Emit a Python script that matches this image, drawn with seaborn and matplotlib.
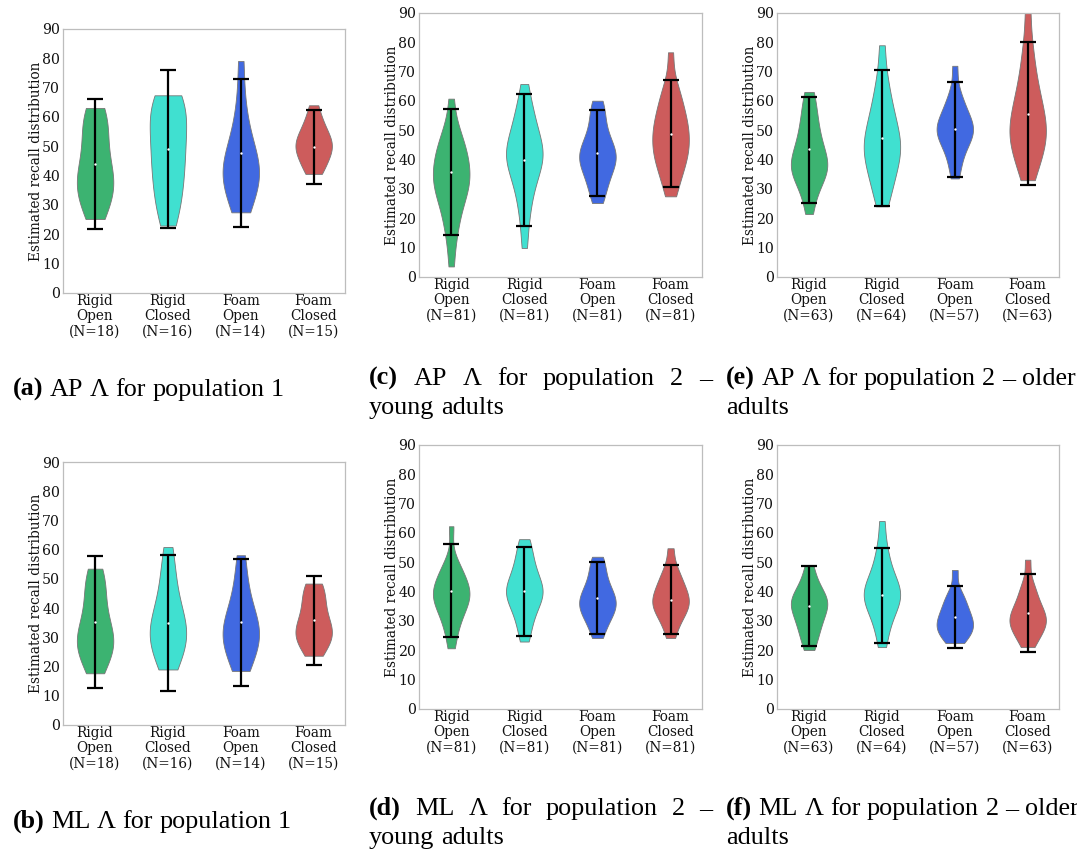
import numpy as np
import pandas as pd
import seaborn as sns
import matplotlib.pyplot as plt

# Conditions and their colours
groups = ["Rigid\nOpen", "Rigid\nClosed", "Foam\nOpen", "Foam\nClosed"]
palette = ["#3CB371", "#40E0D0", "#4169E1", "#CD5C5C"]

# Participants per condition
n_pop1 = [18, 16, 14, 15]
n_young = [81, 81, 81, 81]
n_older = [63, 64, 57, 63]

# Estimated recall values per condition (Rigid Open, Rigid Closed, Foam Open, Foam Closed)
ap_pop1 = [
    [25.2, 27.5, 30, 32.5, 34.5, 36, 37.5, 39, 40.5, 42.5, 45, 48, 51, 54, 57, 59.5, 61.5, 63.1],
    [23.0, 26.5, 30, 33, 36, 39, 41.5, 44, 46.5, 49, 51.5, 54, 56.5, 59, 61.5, 63.5, 65.5, 66.5, 67.4],
    [27.5, 31, 34, 37, 39, 40.5, 42, 43.5, 45.5, 48, 52, 57, 65, 79.1],
    [40.6, 42, 44, 46, 47.5, 48.5, 49.5, 50.5, 51.5, 52.5, 54, 55.5, 57.5, 60, 64.0],
]
ml_pop1 = [
    [17.7, 20, 22.5, 24.5, 26, 27.5, 28.5, 29.5, 31, 32.5, 34.5, 37, 40, 43, 46, 49, 51.5, 53.5],
    [19.0, 21.5, 24, 26.5, 28.5, 30, 31.5, 33, 34.5, 36.5, 39, 42, 45.5, 50, 55, 60.9],
    [18.5, 21.5, 24.5, 27, 29, 30.5, 32, 33.5, 35.5, 38, 41, 45, 51, 58.1],
    [23.7, 26, 28, 29.5, 30.5, 31.5, 32.5, 34, 35.5, 37.5, 40, 42.5, 45, 47, 48.4],
]
ap_young = [
    [3.6, 12, 16.5, 20, 23, 25.5, 27.5, 29, 30.5, 32, 33, 34, 35.5, 37, 38.5, 40, 41.5, 43, 44.5, 46.5, 49, 52, 60.8],
    [9.9, 18, 23, 27, 30, 32.5, 34.5, 36.5, 38, 39.5, 40.5, 41.5, 42.5, 43.5, 45, 46.5, 48, 50, 52, 54.5, 57, 60, 65.8],
    [25.2, 28, 30.5, 32.5, 34.5, 36, 37.5, 38.5, 39.5, 40.5, 41.5, 42.5, 43.5, 44.5, 46, 47.5, 49.5, 52, 55, 57.5, 60.1],
    [27.5, 31.5, 34.5, 37, 39, 40.5, 42, 43.5, 45, 46.5, 48, 49.5, 51, 52.5, 54, 56, 58, 60.5, 63, 66, 76.6],
]
ml_young = [
    [20.7, 26, 29, 31.5, 33.5, 35, 36.5, 37.5, 38.5, 39.5, 40.5, 41.5, 43, 44.5, 46, 48, 50.5, 62.3],
    [23.0, 27, 30, 32.5, 34.5, 36, 37.5, 38.5, 39.5, 40.5, 41.5, 42.5, 44, 45.5, 47.5, 49.5, 52, 55, 57.9],
    [24.2, 27, 29.5, 31, 32.5, 33.5, 34.5, 35.5, 36.5, 37.5, 38.5, 39.5, 41, 42.5, 44.5, 47, 49.5, 51.9],
    [24.2, 28, 30.5, 32, 33.5, 34.5, 35.5, 36.5, 37.5, 38.5, 39.5, 41, 42.5, 44, 46, 48.5, 54.8],
]
ap_older = [
    [21.5, 27, 30, 32.5, 34, 35.5, 36.5, 37.5, 38.5, 39.5, 41, 42.5, 44, 46, 48, 50.5, 53, 56, 59.5, 63.1],
    [24.1, 28, 31.5, 34, 36.5, 38.5, 40.5, 42, 43.5, 45, 46.5, 48, 50, 52, 54.5, 57, 60, 64, 69, 79.0],
    [33.6, 38, 41.5, 44, 46, 47.5, 48.5, 49.5, 50.5, 51.5, 52.5, 54, 55.5, 57.5, 60, 63, 72.0],
    [33.0, 37, 40, 42.5, 44.5, 46.5, 48, 49.5, 51, 53, 55, 57, 59.5, 62, 65, 69, 74, 80, 92],
]
ml_older = [
    [20.1, 23.5, 26, 28, 30, 31.5, 33, 34.5, 35.5, 36.5, 37.5, 38.5, 40, 42, 44.5, 48.8],
    [21.1, 26, 29.5, 32, 34, 35.5, 37, 38, 39, 40, 41, 42.5, 44, 46, 48.5, 52, 56, 64.1],
    [22.5, 24, 25.5, 26.5, 27.5, 28.5, 29.5, 30.5, 31.5, 33, 34.5, 36, 38, 40, 47.4],
    [21.1, 23.5, 25.5, 27, 28, 29, 30, 31, 32, 33, 34.5, 36, 38, 40.5, 43, 50.9],
]

# Interval ends and medians per condition
ap_pop1_lo, ap_pop1_hi, ap_pop1_med = [21.8, 22.2, 22.5, 37.2], [66.0, 76.0, 73.1, 62.5], [44.0, 49.0, 47.7, 49.9]
ml_pop1_lo, ml_pop1_hi, ml_pop1_med = [12.5, 11.5, 13.4, 20.6], [57.9, 58.1, 56.8, 51.0], [35.2, 34.9, 35.2, 35.9]
ap_young_lo, ap_young_hi, ap_young_med = [14.4, 17.5, 27.5, 30.8], [57.4, 62.3, 57.0, 67.0], [35.9, 39.9, 42.3, 48.9]
ml_young_lo, ml_young_hi, ml_young_med = [24.4, 24.9, 25.7, 25.4], [56.2, 55.3, 50.1, 49.1], [40.2, 40.1, 37.8, 37.2]
ap_older_lo, ap_older_hi, ap_older_med = [25.2, 24.1, 34.2, 31.3], [61.5, 70.5, 66.6, 80.1], [43.5, 47.3, 50.3, 55.7]
ml_older_lo, ml_older_hi, ml_older_med = [21.6, 22.4, 20.9, 19.6], [48.8, 54.9, 42.1, 46.0], [35.1, 38.7, 31.3, 32.8]

W, H = 1077, 849
sns.set_theme(style="white")
plt.rcParams["font.family"] = ["DejaVu Serif"]
plt.rcParams["text.color"] = "#111111"
plt.rcParams["axes.labelcolor"] = "#111111"
plt.rcParams["xtick.color"] = "#111111"
plt.rcParams["ytick.color"] = "#111111"

fig = plt.figure(figsize=(W / 100, H / 100), dpi=100)


def rect(left, top, right, bottom):
    return [left / W, 1 - bottom / H, (right - left) / W, (bottom - top) / H]


panels = [
    (ap_pop1, ap_pop1_lo, ap_pop1_hi, ap_pop1_med, n_pop1, rect(63, 29, 345, 293), 1.0),
    (ml_pop1, ml_pop1_lo, ml_pop1_hi, ml_pop1_med, n_pop1, rect(63, 462, 345, 725), 1.0),
    (ap_young, ap_young_lo, ap_young_hi, ap_young_med, n_young, rect(419, 13, 702, 277), 0.8),
    (ml_young, ml_young_lo, ml_young_hi, ml_young_med, n_young, rect(419, 445, 702, 709), 0.8),
    (ap_older, ap_older_lo, ap_older_hi, ap_older_med, n_older, rect(777, 13, 1059, 277), 0.8),
    (ml_older, ml_older_lo, ml_older_hi, ml_older_med, n_older, rect(777, 445, 1059, 709), 0.8),
]

for samples, lo, hi, med, counts, pos, bw in panels:
    ax = fig.add_axes(pos)
    df = pd.DataFrame({
        "group": np.repeat(groups, [len(s) for s in samples]),
        "value": np.concatenate(samples),
    })
    sns.violinplot(data=df, x="group", y="value", hue="group", order=groups,
                   hue_order=groups, palette=palette, saturation=1, cut=0,
                   inner=None, density_norm="width", width=0.5, linewidth=0.6,
                   linecolor="#777777", bw_adjust=bw, legend=False, ax=ax)
    med = np.asarray(med)
    xs = np.arange(len(groups))
    ax.errorbar(xs, med, yerr=[med - np.asarray(lo), np.asarray(hi) - med],
                fmt="none", ecolor="black", elinewidth=1.6, capsize=6,
                capthick=1.6, zorder=4)
    ax.scatter(xs, med, s=3, color="white", zorder=5, linewidths=0)
    ax.set_ylim(0, 90)
    ax.set_yticks(range(0, 91, 10))
    ax.set_xlim(-0.44, 3.43)
    ax.set_xticks(xs)
    ax.set_xticklabels([f"{g}\n(N={n})" for g, n in zip(groups, counts)],
                       fontsize=9.8, linespacing=1.1)
    ax.tick_params(axis="y", labelsize=10.2, length=0, pad=2)
    ax.tick_params(axis="x", length=0, pad=1)
    ax.set_xlabel("")
    ax.set_ylabel("Estimated recall distribution", fontsize=9.8, labelpad=-1)
    for sp in ax.spines.values():
        sp.set_color("#bdbdbd")
        sp.set_linewidth(0.9)

# Sub-figure captions
renderer = fig.canvas.get_renderer()
CAP_SIZE = 18.8
CAP_FAMILY = "Liberation Serif"
SPACE = CAP_SIZE * 100 / 72 * 0.25


def caption_line(words, x0, baseline, bold_first=False, x1=None):
    texts = []
    for i, w in enumerate(words):
        t = fig.text(0, 1 - baseline / H, w, fontsize=CAP_SIZE, family=CAP_FAMILY,
                     fontweight="bold" if (bold_first and i == 0) else "normal",
                     color="black", va="baseline", ha="left")
        texts.append(t)
    widths = [t.get_window_extent(renderer).width for t in texts]
    if x1 is not None and len(words) > 1:
        gap = (x1 - x0 - sum(widths)) / (len(words) - 1)
    else:
        gap = SPACE
    x = x0
    for t, w in zip(texts, widths):
        t.set_x(x / W)
        x += w + gap


captions = [
    (12.7, 396, [["(a)", "AP", "Λ", "for", "population", "1"]], None),
    (12.7, 828, [["(b)", "ML", "Λ", "for", "population", "1"]], None),
    (369, 385, [["(c)", "AP", "Λ", "for", "population", "2", "–"], ["young", "adults"]], 712),
    (369, 815, [["(d)", "ML", "Λ", "for", "population", "2", "–"], ["young", "adults"]], 712),
    (726, 385, [["(e)", "AP", "Λ", "for", "population", "2", "–", "older"], ["adults"]], None),
    (726, 815, [["(f)", "ML", "Λ", "for", "population", "2", "–", "older"], ["adults"]], None),
]
for x0, base, lines, x1 in captions:
    for li, words in enumerate(lines):
        caption_line(words, x0, base + 29 * li, bold_first=(li == 0),
                     x1=x1 if li == 0 else None)

fig.savefig("out.png", dpi=100)
